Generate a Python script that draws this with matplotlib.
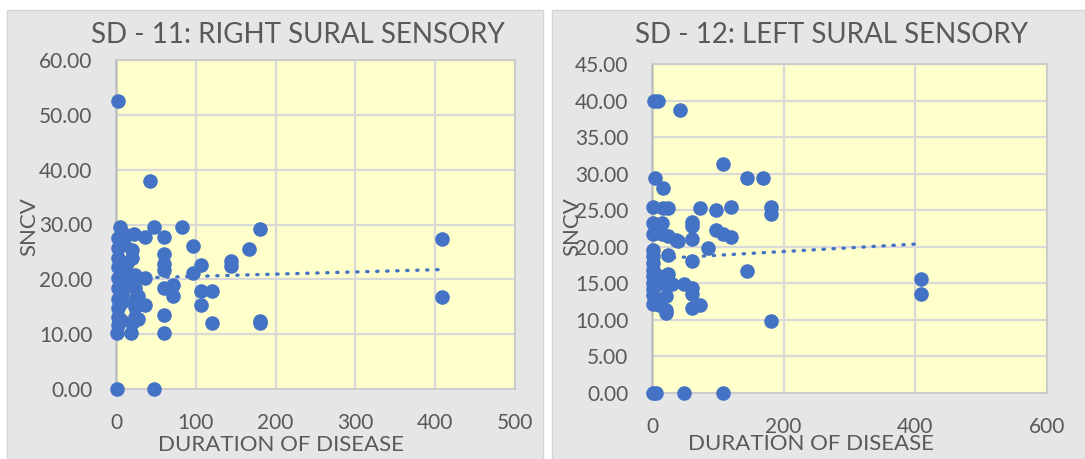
import numpy as np
import matplotlib
matplotlib.use("Agg")
import matplotlib.pyplot as plt
from matplotlib.patches import Rectangle

# ---------------- data ----------------
right_title = "SD - 11: RIGHT SURAL SENSORY"
left_title = "SD - 12: LEFT SURAL SENSORY"
x_label = "DURATION OF DISEASE"
y_label = "SNCV"

r_duration = [3, 42, 1, 47, 5, 48, 83, 180, 167, 22, 3, 12, 36, 60, 96, 3, 20, 10, 3, 20,
              60, 60, 60, 107, 144, 144, 96, 3, 12, 3, 24, 36, 3, 24, 60, 72, 72, 107, 120,
              107, 120, 180, 180, 3, 24, 36, 3, 24, 3, 24, 60, 3, 20, 1, 19, 60, 408, 408,
              8, 12, 8, 14, 6, 28, 28]
r_sncv = [52.5, 38.0, 0.0, 0.0, 29.6, 29.6, 29.5, 29.1, 25.6, 28.3, 27.5, 28.0, 27.8, 27.8,
          26.0, 25.7, 25.4, 26.5, 23.8, 23.8, 24.6, 22.8, 21.7, 22.6, 23.4, 22.4, 21.1, 22.2,
          21.5, 20.2, 20.8, 20.2, 18.4, 18.4, 18.4, 19.0, 17.0, 17.8, 17.8, 15.4, 12.1, 12.1,
          12.4, 16.5, 16.5, 15.3, 14.7, 15.0, 13.2, 13.2, 13.5, 11.7, 12.0, 10.2, 10.2, 10.3,
          27.3, 16.7, 17.5, 19.5, 15.8, 23.0, 12.5, 17.0, 12.8]
# linear trend line (intercept, slope)
r_trend = (20.15, 0.0040)

l_duration = [3, 9, 43, 108, 144, 169, 5, 17, 2, 17, 24, 73, 97, 120, 181, 181, 2, 15, 60,
              60, 60, 97, 108, 120, 2, 15, 25, 36, 40, 85, 2, 2, 25, 60, 144, 2, 2, 2, 24, 10,
              2, 15, 30, 48, 60, 60, 2, 2, 22, 2, 10, 22, 22, 60, 73, 181, 2, 6, 48, 108,
              408, 408]
l_sncv = [40.0, 40.0, 38.7, 31.3, 29.4, 29.4, 29.4, 28.1, 25.4, 25.3, 25.3, 25.3, 25.0, 25.4,
          25.5, 24.5, 23.2, 23.2, 23.4, 22.9, 21.0, 22.3, 21.8, 21.4, 21.8, 21.8, 21.5, 20.9,
          20.8, 19.8, 19.6, 18.8, 18.9, 18.0, 16.7, 17.8, 16.8, 16.0, 16.3, 16.0, 15.0, 15.0,
          14.9, 14.9, 14.3, 13.6, 14.2, 13.4, 13.2, 12.2, 12.0, 11.0, 11.3, 11.6, 12.1, 9.8,
          0.0, 0.0, 0.0, 0.0, 15.6, 13.6]
l_trend = (18.33, 0.0051)

r_xticks = [0, 100, 200, 300, 400, 500]
r_yticks = [0, 10, 20, 30, 40, 50, 60]
l_xticks = [0, 200, 400, 600]
l_yticks = [0, 5, 10, 15, 20, 25, 30, 35, 40, 45]

# ---------------- style ----------------
W, H = 1085, 459
FONT = "Lato"
TXT = "#595959"
BLUE = "#4472C4"
PANEL = "#e6e6e6"
PLOT = "#ffffcc"
GRID = "#d9d9d9"

plt.rcParams["font.family"] = [FONT, "DejaVu Sans"]

fig = plt.figure(figsize=(W / 100, H / 100), dpi=100)
fig.patch.set_facecolor("white")


def fx(px):
    return px / W


def fy(py):
    return 1 - py / H


# panel backgrounds
for x0, x1 in [(7, 543), (552, 1085)]:
    rect = Rectangle((fx(x0), 0), fx(x1) - fx(x0), fy(10), transform=fig.transFigure,
                     facecolor=PANEL, edgecolor="#d4d4d4", linewidth=1.0)
    rect.set_zorder(-10)
    fig.add_artist(rect)


def panel(box, xs, ys, trend, xticks, yticks, title, title_pos, ylab_pos, xlab_pos):
    left, top, right, bottom = box
    ax = fig.add_axes([fx(left), fy(bottom), fx(right) - fx(left), fy(top) - fy(bottom)])
    ax.set_zorder(1)
    ax.set_facecolor(PLOT)
    ax.set_xlim(xticks[0], xticks[-1])
    ax.set_ylim(yticks[0], yticks[-1])
    ax.set_xticks(xticks)
    ax.set_yticks(yticks)
    ax.set_xticklabels([str(t) for t in xticks])
    ax.set_yticklabels([f"{t:.2f}" for t in yticks])
    ax.grid(True, color=GRID, linewidth=1.6, zorder=0)
    ax.set_axisbelow(True)
    ax.tick_params(length=0, labelsize=15, colors=TXT, pad=17)
    for s in ax.spines.values():
        s.set_color("#c9c9c9")
        s.set_linewidth(1.2)
    ax.spines["left"].set_color("#bfbfbf")
    ax.spines["left"].set_linewidth(1.8)
    ax.plot(xs, ys, "o", color=BLUE, markersize=10.5, markeredgewidth=0, zorder=3, clip_on=False)
    # linear trend line over the data's x range
    b, k = trend
    xa = np.asarray(xs, float)
    xt = np.array([xa.min(), xa.max()])
    ax.plot(xt, b + k * xt, color=BLUE, linewidth=2.4, linestyle=(0, (0.4, 2.6)),
            dash_capstyle="round", zorder=2)
    fig.text(fx(title_pos[0]), fy(title_pos[1]), title, ha="center", va="center",
             fontsize=20, color=TXT, zorder=5)
    fig.text(fx(ylab_pos[0]), fy(ylab_pos[1]), y_label, ha="center", va="center",
             rotation=90, fontsize=16, color=TXT, zorder=5)
    fig.text(fx(xlab_pos[0]), fy(xlab_pos[1]), x_label, ha="center", va="center",
             fontsize=16, color=TXT, zorder=5)
    return ax


panel((116, 60, 515, 389), r_duration, r_sncv, r_trend, r_xticks, r_yticks, right_title,
      (298, 35), (29, 227), (281, 445))
panel((652, 64, 1047, 393), l_duration, l_sncv, l_trend, l_xticks, l_yticks, left_title,
      (832, 35), (572, 227), (811, 444))

fig.savefig("out.png", dpi=100, facecolor=fig.get_facecolor())
